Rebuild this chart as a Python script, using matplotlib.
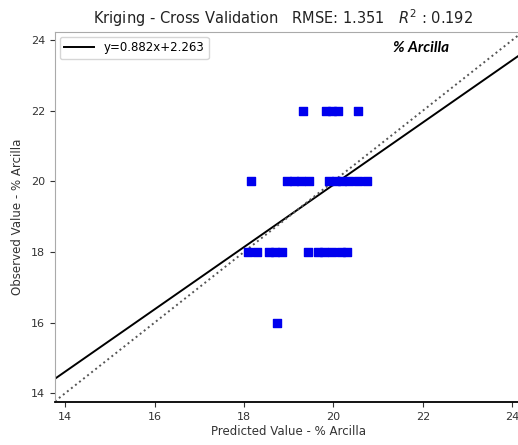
import numpy as np
import matplotlib
matplotlib.use("Agg")
import matplotlib.pyplot as plt


pred_20 = [18.15, 18.97, 19.12, 19.28, 19.45, 19.9, 20.05, 20.2, 20.35, 20.55, 20.75]
pred_18 = [18.09, 18.3, 18.55, 18.7, 18.85, 19.44, 19.65, 19.8, 19.97, 20.18, 20.3]
pred_22 = [19.32, 19.84, 19.98, 20.1, 20.55]
pred_16 = [18.74]

predicted = np.array(pred_20 + pred_18 + pred_22 + pred_16)
observed = np.array([20] * len(pred_20) + [18] * len(pred_18)
                    + [22] * len(pred_22) + [16] * len(pred_16))

slope = 0.882
intercept = 2.263
rmse = 1.351
r2 = 0.192

xlim = (13.77, 24.2)
ylim = (13.75, 24.23)

fig = plt.figure(figsize=(5.18, 4.45), dpi=100)
ax = fig.add_axes([0.106, 0.0966, 0.9, 0.8314])

ax.scatter(predicted, observed, marker='s', s=30, color='#0000ee', zorder=3)

xs = np.array(xlim)
ax.plot(xs, slope * xs + intercept, color='black', lw=1.4,
        label=f"y={slope}x+{intercept}")
ax.plot(xs, xs, color='#555555', lw=1.4, ls=':')

ax.set_xlim(xlim)
ax.set_ylim(ylim)
ax.set_xticks([14, 16, 18, 20, 22, 24])
ax.set_yticks([14, 16, 18, 20, 22, 24])
ax.tick_params(labelsize=8, colors='#333333')

ax.spines['left'].set_color('#aaaaaa')
ax.spines['top'].set_color('#aaaaaa')
ax.spines['bottom'].set_linewidth(1.3)

ax.set_xlabel("Predicted Value - % Arcilla", fontsize=8.5, color='#333333', labelpad=2)
ax.set_ylabel("Observed Value - % Arcilla", fontsize=8.5, color='#333333', labelpad=5)
ax.set_title(f"Kriging - Cross Validation   RMSE: {rmse}   $R^2$ : {r2}",
             fontsize=10.5, color='#222222', pad=6, x=0.49)

ax.legend(loc='upper left', fontsize=8.5, handlelength=2.5, borderaxespad=0.4)
ax.text(0.725, 0.975, "% Arcilla", transform=ax.transAxes, fontsize=11,
        fontweight='bold', style='italic', family='Lato', va='top')

fig.savefig("out.png", dpi=100)
